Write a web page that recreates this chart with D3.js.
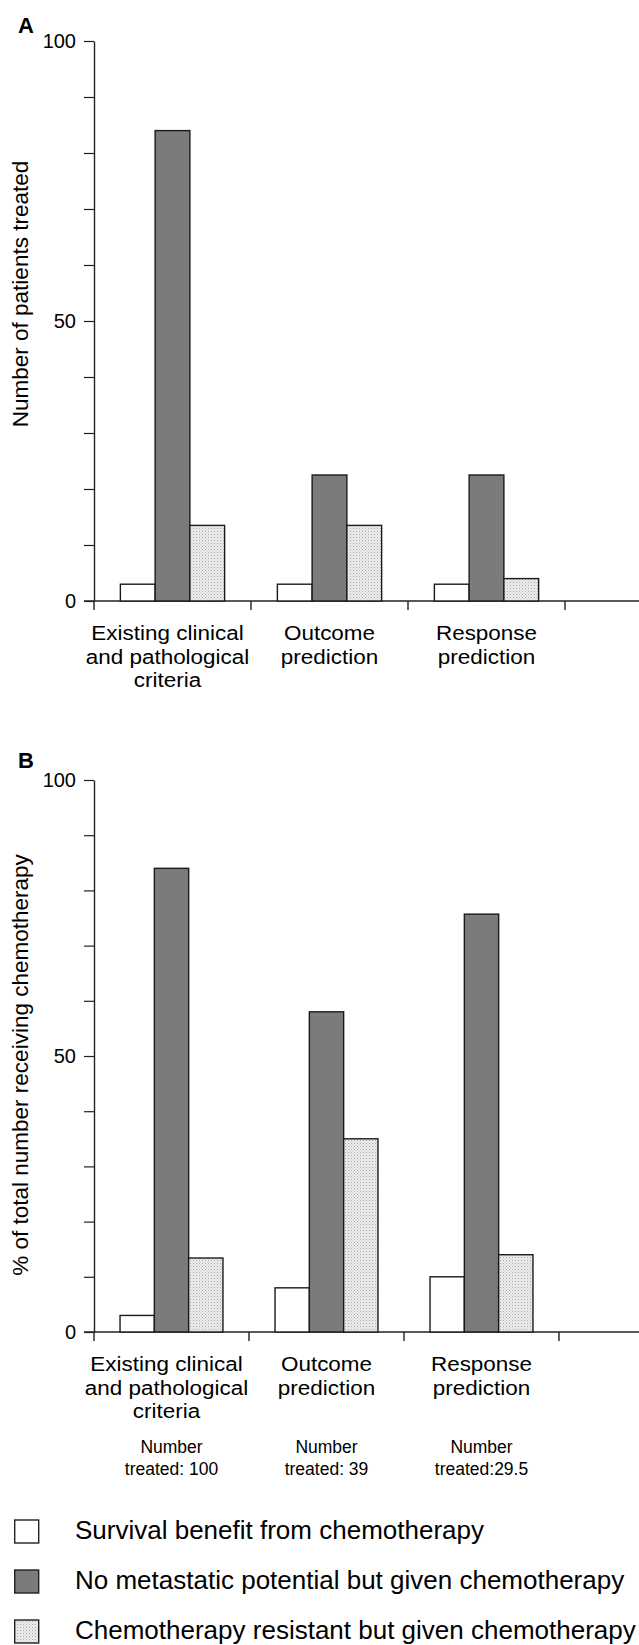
<!DOCTYPE html>
<html>
<head>
<meta charset="utf-8">
<script src="https://cdn.jsdelivr.net/npm/d3@7"></script>
<style>
  html, body { margin: 0; padding: 0; background: #fff; }
  svg { display: block; }
  text { font-family: "Liberation Sans", Arial, Helvetica, sans-serif; fill: #000; }
</style>
</head>
<body>
<div id="chart"></div>
<script>
const width = 639;
const height = 1645;

// categories (4th slot is empty, the axis runs on past it)
const categories = ["existing", "outcome", "response", "blank"];
const categoryLines = [
  ["Existing clinical", "and pathological", "criteria"],
  ["Outcome", "prediction"],
  ["Response", "prediction"]
];
const seriesKeys = ["benefit", "noMet", "resistant"];
const seriesNames = [
  "Survival benefit from chemotherapy",
  "No metastatic potential but given chemotherapy",
  "Chemotherapy resistant but given chemotherapy"
];

// panel A: number of patients treated
const patientsBenefit = [3, 3, 3];
const patientsNoMet = [84, 22.5, 22.5];
const patientsResistant = [13.5, 13.5, 4];

// panel B: % of total number receiving chemotherapy
const pctBenefit = [3, 8, 10];
const pctNoMet = [84, 58, 75.7];
const pctResistant = [13.4, 35, 14];

const numberTreated = ["treated: 100", "treated: 39", "treated:29.5"];

const yTicks = d3.range(0, 101, 10);
const yTickLabels = [0, 50, 100];

const svg = d3.select("#chart")
  .append("svg")
  .attr("width", width)
  .attr("height", height);

const defs = svg.append("defs");
const pat = defs.append("pattern")
  .attr("id", "stipple")
  .attr("patternUnits", "userSpaceOnUse")
  .attr("width", 3)
  .attr("height", 3);
pat.append("rect").attr("width", 3).attr("height", 3).attr("fill", "#ededed");
pat.append("rect").attr("width", 1).attr("height", 1).attr("fill", "#a9a9a9");
pat.append("rect").attr("x", 1.5).attr("y", 1.5).attr("width", 1).attr("height", 1).attr("fill", "#c4c4c4");

const fillFor = {
  benefit: "#ffffff",
  noMet: "#7b7b7b",
  resistant: "url(#stipple)"
};

function drawPanel(opts) {
  const rows = categoryLines.map((_, i) => ({
    cat: categories[i],
    benefit: opts.benefit[i],
    noMet: opts.noMet[i],
    resistant: opts.resistant[i]
  }));

  const x = d3.scaleBand()
    .domain(categories)
    .range(opts.xRange)
    .padding(0);

  const bw = x.bandwidth();
  const inner = d3.scaleBand()
    .domain(seriesKeys)
    .range([bw * 0.168, bw * 0.832])
    .padding(0);

  const y = d3.scaleLinear()
    .domain([0, 100])
    .range(opts.yRange);

  const g = svg.append("g");

  // y axis
  const yAxis = g.append("g")
    .attr("transform", `translate(${opts.xRange[0]},0)`)
    .call(d3.axisLeft(y)
      .tickValues(yTicks)
      .tickSize(10)
      .tickSizeOuter(0)
      .tickFormat(d => yTickLabels.includes(d) ? d : ""));
  yAxis.select(".domain").attr("stroke", "#222").attr("stroke-width", 1.4);
  yAxis.selectAll(".tick line").attr("stroke", "#222").attr("stroke-width", 1.2);
  yAxis.selectAll(".tick text")
    .attr("x", -18)
    .style("font-size", "20px")
    .style("font-family", "'Liberation Sans', Arial, sans-serif")
    .attr("fill", "#000");

  // baseline and category ticks
  g.append("line")
    .attr("x1", opts.xRange[0] - 10)
    .attr("x2", width)
    .attr("y1", y(0))
    .attr("y2", y(0))
    .attr("stroke", "#222")
    .attr("stroke-width", 1.4);

  g.selectAll("line.xtick")
    .data(categories)
    .enter()
    .append("line")
    .attr("class", "xtick")
    .attr("x1", d => x(d))
    .attr("x2", d => x(d))
    .attr("y1", y(0))
    .attr("y2", y(0) + 9)
    .attr("stroke", "#222")
    .attr("stroke-width", 1.4);

  // bars
  const groups = g.selectAll("g.grp")
    .data(rows)
    .enter()
    .append("g")
    .attr("class", "grp")
    .attr("transform", d => `translate(${x(d.cat)},0)`);

  groups.selectAll("rect")
    .data(d => seriesKeys.map(k => ({ key: k, value: d[k] })))
    .enter()
    .append("rect")
    .attr("x", d => inner(d.key))
    .attr("width", inner.bandwidth())
    .attr("y", d => y(d.value))
    .attr("height", d => y(0) - y(d.value))
    .attr("fill", d => fillFor[d.key])
    .attr("stroke", "#1a1a1a")
    .attr("stroke-width", 1.4);

  // category labels, one text per line, slightly widened like the original type
  categoryLines.forEach((lines, i) => {
    const cx = x(categories[i]) + bw / 2 - (i === 0 ? 5 : 0);
    lines.forEach((line, j) => {
      g.append("text")
        .attr("class", "cat")
        .attr("text-anchor", "middle")
        .attr("transform", `translate(${cx},${opts.catBaseline + j * 23.5}) scale(1.07,1)`)
        .style("font-size", "21px")
        .text(line);
    });
  });

  // y axis title
  g.append("text")
    .attr("transform", `translate(28,${opts.titleY}) rotate(-90)`)
    .attr("text-anchor", "middle")
    .style("font-size", "22.5px")
    .text(opts.yTitle);

  // panel letter
  g.append("text")
    .attr("x", 18)
    .attr("y", opts.letterY)
    .style("font-size", "22px")
    .style("font-weight", "bold")
    .text(opts.letter);

  return { x, y, bw };
}

drawPanel({
  letter: "A",
  letterY: 33,
  benefit: patientsBenefit,
  noMet: patientsNoMet,
  resistant: patientsResistant,
  xRange: [94, 94 + 157 * 4],
  yRange: [601, 41],
  catBaseline: 640,
  yTitle: "Number of patients treated",
  titleY: 294
});

const panelB = drawPanel({
  letter: "B",
  letterY: 768,
  benefit: pctBenefit,
  noMet: pctNoMet,
  resistant: pctResistant,
  xRange: [94, 94 + 155 * 4],
  yRange: [1332, 780],
  catBaseline: 1371,
  yTitle: "% of total number receiving chemotherapy",
  titleY: 1065
});

// number treated notes under panel B
numberTreated.forEach((t, i) => {
  const cx = panelB.x(categories[i]) + panelB.bw / 2;
  ["Number", t].forEach((line, j) => {
    svg.append("text")
      .attr("class", "note")
      .attr("text-anchor", "middle")
      .attr("x", cx)
      .attr("y", 1453 + j * 22)
      .style("font-size", "17.5px")
      .text(line);
  });
});

// legend
const legend = svg.append("g")
  .attr("transform", "translate(14,1539)");

seriesKeys.forEach((k, i) => {
  const row = legend.append("g")
    .attr("transform", `translate(0,${i * 50})`);

  row.append("rect")
    .attr("x", 0.7)
    .attr("y", -19)
    .attr("width", 24)
    .attr("height", 23)
    .attr("fill", fillFor[k])
    .attr("stroke", "#222")
    .attr("stroke-width", 1.4);

  row.append("text")
    .attr("x", 61)
    .attr("y", 0)
    .style("font-size", "26px")
    .text(seriesNames[i]);
});
</script>
</body>
</html>
